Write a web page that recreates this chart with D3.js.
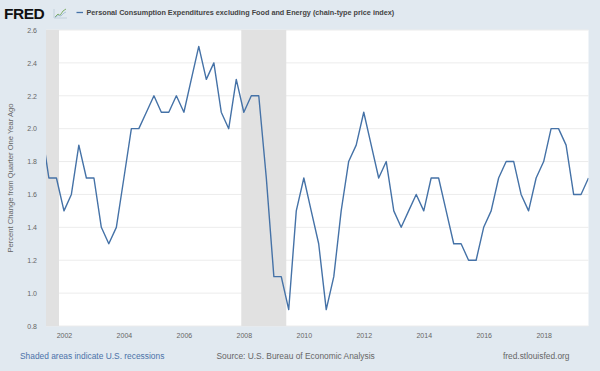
<!DOCTYPE html>
<html><head><meta charset="utf-8">
<script src="https://cdn.jsdelivr.net/npm/d3@7"></script>
<style>
html,body{margin:0;padding:0;background:#e1e9f0;}
svg{display:block;font-family:"Liberation Sans",Arial,sans-serif;}
</style></head>
<body>
<svg id="chart" width="600" height="371"></svg>
<script>
const titleText = "Personal Consumption Expenditures excluding Food and Energy (chain-type price index)";
const yAxisTitle = "Percent Change from Quarter One Year Ago";
const dates = [
 "2001-04-01","2001-07-01","2001-10-01",
 "2002-01-01","2002-04-01","2002-07-01","2002-10-01",
 "2003-01-01","2003-04-01","2003-07-01","2003-10-01",
 "2004-01-01","2004-04-01","2004-07-01","2004-10-01",
 "2005-01-01","2005-04-01","2005-07-01","2005-10-01",
 "2006-01-01","2006-04-01","2006-07-01","2006-10-01",
 "2007-01-01","2007-04-01","2007-07-01","2007-10-01",
 "2008-01-01","2008-04-01","2008-07-01","2008-10-01",
 "2009-01-01","2009-04-01","2009-07-01","2009-10-01",
 "2010-01-01","2010-04-01","2010-07-01","2010-10-01",
 "2011-01-01","2011-04-01","2011-07-01","2011-10-01",
 "2012-01-01","2012-04-01","2012-07-01","2012-10-01",
 "2013-01-01","2013-04-01","2013-07-01","2013-10-01",
 "2014-01-01","2014-04-01","2014-07-01","2014-10-01",
 "2015-01-01","2015-04-01","2015-07-01","2015-10-01",
 "2016-01-01","2016-04-01","2016-07-01","2016-10-01",
 "2017-01-01","2017-04-01","2017-07-01","2017-10-01",
 "2018-01-01","2018-04-01","2018-07-01","2018-10-01",
 "2019-01-01","2019-04-01","2019-07-01"
];
const values = [
 2.0,1.7,1.7,
 1.5,1.6,1.9,1.7,
 1.7,1.4,1.3,1.4,
 1.7,2.0,2.0,2.1,
 2.2,2.1,2.1,2.2,
 2.1,2.3,2.5,2.3,
 2.4,2.1,2.0,2.3,
 2.1,2.2,2.2,1.7,
 1.1,1.1,0.9,1.5,
 1.7,1.5,1.3,0.9,
 1.1,1.5,1.8,1.9,
 2.1,1.9,1.7,1.8,
 1.5,1.4,1.5,1.6,
 1.5,1.7,1.7,1.5,
 1.3,1.3,1.2,1.2,
 1.4,1.5,1.7,1.8,
 1.8,1.6,1.5,1.7,
 1.8,2.0,2.0,1.9,
 1.6,1.6,1.7
];
const recessions = [["2001-03-01","2001-11-01"],["2007-12-01","2009-06-01"]];
const yTicks = [0.8,1.0,1.2,1.4,1.6,1.8,2.0,2.2,2.4,2.6];
const xTickYears = [2002,2004,2006,2008,2010,2012,2014,2016,2018];
const domainStart = "2001-05-27", domainEnd = "2019-07-01";

const parse = d3.utcParse("%Y-%m-%d");
const data = dates.map((d,i)=>({date:parse(d), value:values[i]}));

const svg = d3.select("#chart");
const L=46, R=588.5, T=30, B=326;

const x = d3.scaleUtc().domain([parse(domainStart), parse(domainEnd)]).range([L,R]);
const y = d3.scaleLinear().domain([0.8,2.6]).range([B,T]);

// header
svg.append("text").attr("x",4).attr("y",18.5).attr("font-size",15.5).attr("font-weight",900)
  .attr("fill","#111").attr("letter-spacing",-0.5).text("FRED");
const icon = svg.append("g").attr("transform","translate(54,7)");
icon.append("path").attr("d","M0,11 L13,11 M0,11 L0,2").attr("stroke","#b9c9d6").attr("stroke-width",0.8).attr("fill","none");
icon.append("path").attr("d","M1,10 L4,7 L6,8.5 L9,4 L12,2").attr("stroke","#7fae6a").attr("stroke-width",1).attr("fill","none");
icon.append("path").attr("d","M1,10.5 L4,8.5 L7,9 L10,6 L12,5").attr("stroke","#9cb9d2").attr("stroke-width",0.8).attr("fill","none");

svg.append("line").attr("x1",76.5).attr("x2",83).attr("y1",12.5).attr("y2",12.5).attr("stroke","#4572a7").attr("stroke-width",1.3);
svg.append("text").attr("x",86.5).attr("y",15).attr("font-size",7.25).attr("font-weight",700)
  .attr("fill","#444").text(titleText);

// plot background
svg.append("rect").attr("x",L).attr("y",T).attr("width",R-L).attr("height",B-T).attr("fill","#fff");

// grid
svg.append("g").selectAll("line").data(yTicks).join("line")
  .attr("x1",L).attr("x2",R).attr("y1",d=>y(d)).attr("y2",d=>y(d))
  .attr("stroke","#ececec").attr("stroke-width",1);

// recessions
svg.append("g").selectAll("rect").data(recessions).join("rect")
  .attr("x",d=>Math.max(L,x(parse(d[0]))))
  .attr("width",d=>x(parse(d[1]))-Math.max(L,x(parse(d[0]))))
  .attr("y",T).attr("height",B-T).attr("fill","#e1e1e1");

svg.append("clipPath").attr("id","clip").append("rect").attr("x",L).attr("y",T-5).attr("width",R-L).attr("height",B-T+10);

const line = d3.line().x(d=>x(d.date)).y(d=>y(d.value));
svg.append("path").datum(data).attr("clip-path","url(#clip)")
  .attr("d",line).attr("fill","none").attr("stroke","#4572a7").attr("stroke-width",1.4)
  .attr("stroke-linejoin","round");

// y axis
const yAxis = d3.axisLeft(y).tickValues(yTicks).tickFormat(d3.format(".1f")).tickSize(0).tickPadding(9);
const gy = svg.append("g").attr("transform",`translate(${L},0)`).call(yAxis);
gy.select(".domain").remove();
gy.selectAll("text").attr("font-size",7).attr("fill","#666").attr("font-family","'Liberation Sans',Arial,sans-serif");

// x axis
const xAxis = d3.axisBottom(x).tickValues(xTickYears.map(yr=>new Date(Date.UTC(yr,0,1))))
  .tickFormat(d3.utcFormat("%Y")).tickSize(0).tickPadding(7);
const gx = svg.append("g").attr("transform",`translate(0,${B})`).call(xAxis);
gx.select(".domain").remove();
gx.selectAll("text").attr("font-size",7).attr("fill","#666").attr("font-family","'Liberation Sans',Arial,sans-serif");

// y title
svg.append("text").attr("transform",`translate(12.5,${(T+B)/2}) rotate(-90)`)
  .attr("text-anchor","middle").attr("font-size",7.6).attr("fill","#666").text(yAxisTitle);

// footer
svg.append("text").attr("x",20).attr("y",359).attr("font-size",8.4).attr("fill","#4a72a8").text("Shaded areas indicate U.S. recessions");
svg.append("text").attr("x",216.5).attr("y",359).attr("font-size",8.4).attr("fill","#666").text("Source: U.S. Bureau of Economic Analysis");
svg.append("text").attr("x",569.5).attr("y",359).attr("text-anchor","end").attr("font-size",8.4).attr("fill","#666").text("fred.stlouisfed.org");
</script>
</body></html>
